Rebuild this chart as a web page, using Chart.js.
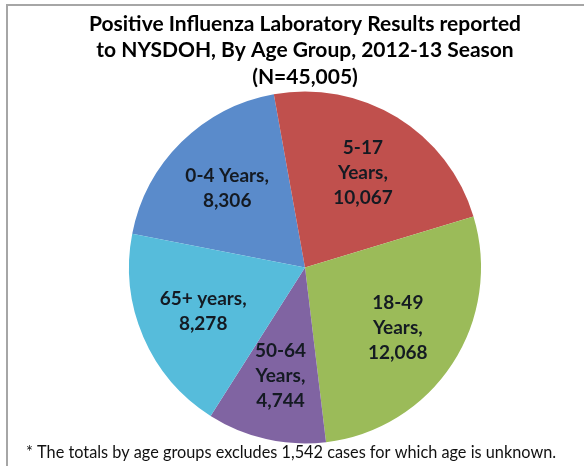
<!DOCTYPE html>
<html>
<head>
<meta charset="utf-8">
<script src="https://cdn.jsdelivr.net/npm/chart.js@4"></script>
<style>
  html, body { margin: 0; padding: 0; background: #fff; }
  #wrap { position: relative; width: 584px; height: 466px; }
  #frameTop { position: absolute; left: 6px; top: 4px; width: 578px; height: 2px; background: #a6a6a6; }
  #frameLeft { position: absolute; left: 6px; top: 4px; width: 2px; height: 462px; background: #a6a6a6; }
  canvas { position: absolute; left: 0; top: 0; }
</style>
</head>
<body>
<div id="wrap">
  <canvas id="grippe" width="584" height="466"></canvas>
  <div id="frameTop"></div>
  <div id="frameLeft"></div>
</div>
<script>
// data
var ageGroups = ['0-4 Years', '5-17 Years', '18-49 Years', '50-64 Years', '65+ years'];
var cases = [8306, 10067, 12068, 4744, 8278];
var sliceColors = ['#5a8bcb', '#c0504d', '#9bbb59', '#8064a2', '#56bcdb'];
// labels put on two or three lines
var wrapLabel = [false, true, true, true, false];

function fmt(n) {
  return n.toLocaleString('en-US');
}

// draws "group, value" inside each slice
var sliceLabels = {
  id: 'sliceLabels',
  afterDatasetsDraw: function(chart) {
    var ctx = chart.ctx;
    var meta = chart.getDatasetMeta(0);
    ctx.save();
    ctx.font = 'bold 19px Lato';
    ctx.fillStyle = '#141a22';
    ctx.textAlign = 'center';
    ctx.textBaseline = 'middle';
    meta.data.forEach(function(arc, i) {
      var p = arc.getProps(['x', 'y', 'startAngle', 'endAngle', 'outerRadius']);
      var mid = (p.startAngle + p.endAngle) / 2;
      var r = p.outerRadius * 0.63;
      var cx = p.x + Math.cos(mid) * r;
      var cy = p.y + Math.sin(mid) * r;
      var lines;
      if (wrapLabel[i]) {
        var parts = ageGroups[i].split(' ');
        lines = [parts[0], parts[1] + ',', fmt(cases[i])];
      } else {
        lines = [ageGroups[i] + ',', fmt(cases[i])];
      }
      var lh = 25;
      var y0 = cy - (lines.length - 1) * lh / 2;
      lines.forEach(function(t, k) {
        ctx.fillText(t, cx, y0 + k * lh);
      });
    });
    ctx.restore();
  }
};

var grippe = document.getElementById('grippe').getContext('2d');
var chartGrippe = new Chart(grippe, {
  type: 'pie',
  data: {
    labels: ageGroups,
    datasets: [{
      data: cases,
      backgroundColor: sliceColors,
      borderWidth: 0,
      radius: 176
    }]
  },
  options: {
    responsive: false,
    animation: false,
    rotation: -79,
    layout: { padding: { left: 26, right: 0, top: 0, bottom: 0 } },
    plugins: {
      legend: { display: false },
      tooltip: { enabled: false },
      title: {
        display: true,
        text: ['Positive Influenza Laboratory Results reported',
               'to NYSDOH, By Age Group, 2012-13 Season',
               '(N=45,005)'],
        color: '#000',
        font: { family: 'Lato', size: 21, weight: 'bold', lineHeight: 1.26 },
        padding: { top: 11, bottom: 2 }
      },
      subtitle: {
        display: true,
        position: 'bottom',
        align: 'start',
        text: '* The totals by age groups excludes 1,542 cases for which age is unknown.',
        color: '#111',
        font: { family: 'Lato', size: 16.3, weight: 'normal', lineHeight: 1.2 },
        padding: { top: 1, bottom: 3 }
      }
    }
  },
  plugins: [sliceLabels]
});
</script>
</body>
</html>
